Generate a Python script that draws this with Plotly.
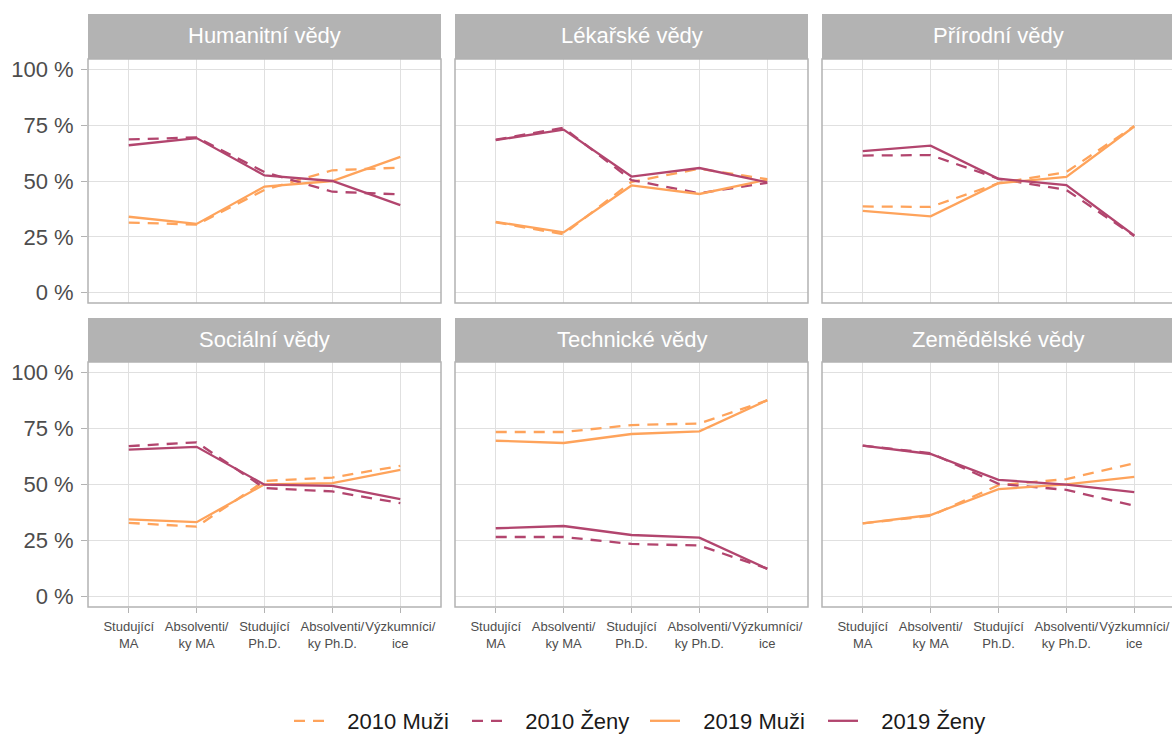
import plotly.graph_objects as go

# ---------------- data ----------------
fields = ["Humanitní vědy", "Lékařské vědy", "Přírodní vědy",
          "Sociální vědy", "Technické vědy", "Zemědělské vědy"]
categories = ["Studující<br>MA", "Absolventi/<br>ky MA", "Studující<br>Ph.D.",
              "Absolventi/<br>ky Ph.D.", "Výzkumníci/<br>ice"]

muzi_2010 = [
    [31.4, 30.5, 46.0, 54.8, 56.0],
    [31.5, 26.2, 49.6, 55.5, 50.8],
    [38.6, 38.4, 49.0, 54.0, 74.6],
    [32.9, 31.2, 51.6, 53.1, 58.3],
    [73.4, 73.4, 76.5, 77.2, 87.5],
    [32.7, 36.0, 49.7, 52.4, 59.5],
]
zeny_2010 = [
    [68.6, 69.5, 54.0, 45.2, 44.0],
    [68.5, 73.8, 50.4, 44.5, 49.2],
    [61.4, 61.6, 51.0, 46.0, 25.4],
    [67.1, 68.8, 48.4, 46.9, 41.7],
    [26.6, 26.6, 23.5, 22.8, 12.5],
    [67.3, 64.0, 50.3, 47.6, 40.5],
]
muzi_2019 = [
    [34.0, 30.8, 47.5, 50.0, 60.8],
    [31.7, 27.0, 48.0, 44.2, 50.6],
    [36.6, 34.2, 49.0, 51.8, 74.4],
    [34.5, 33.2, 50.1, 50.6, 56.5],
    [69.5, 68.5, 72.5, 73.7, 87.6],
    [32.7, 36.4, 47.9, 50.1, 53.4],
]
zeny_2019 = [
    [66.0, 69.2, 52.5, 50.0, 39.2],
    [68.3, 73.0, 52.0, 55.8, 49.4],
    [63.4, 65.8, 51.0, 48.2, 25.6],
    [65.5, 66.8, 49.9, 49.4, 43.5],
    [30.5, 31.5, 27.5, 26.3, 12.4],
    [67.3, 63.6, 52.1, 49.9, 46.6],
]
y_ticks = [0, 25, 50, 75, 100]
y_tick_labels = ["0 %", "25 %", "50 %", "75 %", "100 %"]

# ---------------- style ----------------
FW, FH = 1172, 736
ORANGE = "#FEA35B"
PURPLE = "#B2456E"
GRID = "#E0E0E0"
BORDER = "#B3B3B3"
TICKTXT = "#4D4D4D"
FONT = "Liberation Sans, Arial, sans-serif"
PAD = "\u00a0\u00a0\u00a0"


def px_x(p):
    return p / FW


def px_y(p):
    return 1 - p / FH


series = [
    ("2010 Muži", muzi_2010, ORANGE, "11px,8px"),
    ("2010 Ženy", zeny_2010, PURPLE, "11px,8px"),
    ("2019 Muži", muzi_2019, ORANGE, "solid"),
    ("2019 Ženy", zeny_2019, PURPLE, "solid"),
]

# panel pixel boxes (screen coordinates)
col_px = [(88, 441), (455, 808), (822, 1172)]
col_range = [[0.4, 5.6], [0.4, 5.6], [0.4, 5.556]]
row_px = [(59, 303), (362, 607)]
strip_px = [(14, 59), (318, 362)]

fig = go.Figure()
layout = {}
shapes = []
annotations = []
x = [1, 2, 3, 4, 5]

for i, field in enumerate(fields):
    r, c = divmod(i, 3)
    n = i + 1
    xa = "x" if n == 1 else f"x{n}"
    ya = "y" if n == 1 else f"y{n}"
    for name, data, color, dash in series:
        fig.add_trace(go.Scatter(
            x=x, y=data[i], mode="lines", name=PAD + name,
            line=dict(color=color, width=2.3, dash=dash),
            legendgroup=name, showlegend=(i == 0),
            xaxis=xa, yaxis=ya, hoverinfo="skip",
        ))
    x0, x1 = col_px[c]
    y0, y1 = row_px[r]
    layout[f"xaxis{n if n > 1 else ''}"] = dict(
        domain=[px_x(x0), min(1.0, px_x(x1))], range=col_range[c], anchor=ya,
        tickvals=x, ticktext=categories, tickangle=0,
        showticklabels=(r == 1), ticks="outside" if r == 1 else "",
        ticklen=5, tickcolor=BORDER, tickwidth=1, ticklabelstandoff=2,
        tickfont=dict(size=13, color=TICKTXT, family=FONT),
        showgrid=True, gridcolor=GRID, gridwidth=1, zeroline=False,
        showline=False, fixedrange=True, automargin=False,
    )
    layout[f"yaxis{n if n > 1 else ''}"] = dict(
        domain=[px_y(y1), px_y(y0)], range=[-4.6, 104.6], anchor=xa,
        tickvals=y_ticks, ticktext=y_tick_labels,
        showticklabels=(c == 0), ticks="outside" if c == 0 else "",
        ticklen=6, tickcolor=BORDER, tickwidth=1, ticklabelstandoff=3,
        tickfont=dict(size=22, color=TICKTXT, family=FONT),
        showgrid=True, gridcolor=GRID, gridwidth=1, zeroline=False,
        showline=False, fixedrange=True, automargin=False,
    )
    # panel border
    bx1 = x1 if c < 2 else 1182
    shapes.append(dict(type="rect", xref="paper", yref="paper",
                       x0=px_x(x0), x1=px_x(bx1), y0=px_y(y1), y1=px_y(y0),
                       line=dict(color=BORDER, width=1.5), fillcolor="rgba(0,0,0,0)",
                       layer="above"))
    # strip
    s0, s1 = strip_px[r]
    shapes.append(dict(type="rect", xref="paper", yref="paper",
                       x0=px_x(x0), x1=px_x(bx1), y0=px_y(s1), y1=px_y(s0),
                       line=dict(width=0), fillcolor=BORDER, layer="below"))
    sx1 = x1 if c < 2 else 1174
    annotations.append(dict(text=field, xref="paper", yref="paper",
                            x=px_x((x0 + sx1) / 2), y=px_y((s0 + s1) / 2 - 1),
                            xanchor="center", yanchor="middle", showarrow=False,
                            font=dict(size=22, color="white", family=FONT)))

fig.update_layout(
    width=FW, height=FH,
    margin=dict(l=0, r=0, t=0, b=0, autoexpand=False),
    paper_bgcolor="white", plot_bgcolor="white",
    shapes=shapes, annotations=annotations,
    font=dict(family=FONT),
    showlegend=True,
    legend=dict(orientation="h", x=px_x(645), xanchor="center",
                y=px_y(721), yanchor="middle",
                font=dict(size=22, color="#1A1A1A", family=FONT),
                itemwidth=30, entrywidth=133, entrywidthmode="pixels",
                bgcolor="rgba(0,0,0,0)"),
    **layout,
)

fig.write_html(
    "out.html",
    config={"displayModeBar": False, "staticPlot": True},
    post_script="document.body.style.margin='0';document.body.style.overflow='hidden';",
)
